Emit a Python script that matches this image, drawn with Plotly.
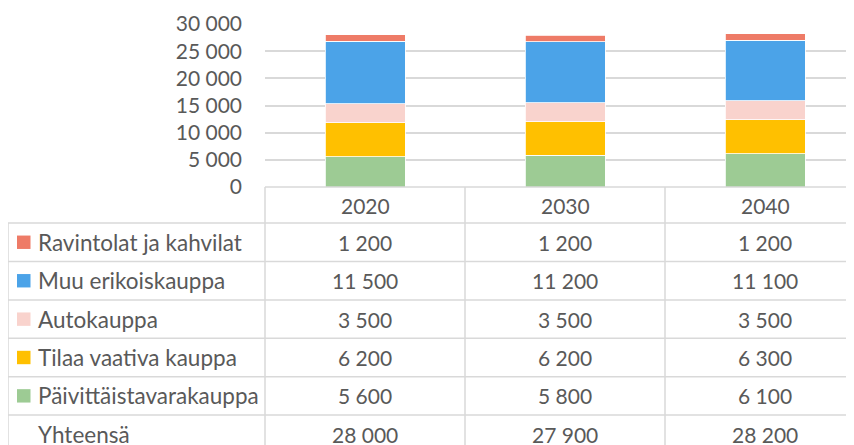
import plotly.graph_objects as go

years = ["2020", "2030", "2040"]
series_names = ["Päivittäistavarakauppa", "Tilaa vaativa kauppa", "Autokauppa",
                "Muu erikoiskauppa", "Ravintolat ja kahvilat"]
paivittais = [5600, 5800, 6100]
tilaa_vaativa = [6200, 6200, 6300]
autokauppa = [3500, 3500, 3500]
muu_erikois = [11500, 11200, 11100]
ravintolat = [1200, 1200, 1200]
series_values = [paivittais, tilaa_vaativa, autokauppa, muu_erikois, ravintolat]
colors = ["#9DCB94", "#FFC000", "#F9D3CD", "#4BA3E8", "#EE7B67"]
total_label = "Yhteensä"
yticks = [0, 5000, 10000, 15000, 20000, 25000, 30000]

OFF = 8  # page body margin
W, H = 854 - OFF, 445 - OFF
L, T = 265 - OFF, 24 - OFF
B_PIX = 187 - OFF  # figure pixel y of zero line
R = 0
plot_h = B_PIX - T
plot_w = W - L - R
FONT = "Lato"
GRAY = "#595959"
LINE = "#D9D9D9"
FS_NUM = 21
FS_LBL = 22.5

def fmt(v):
    return f"{v:,}".replace(",", " ")

def py(ypix):
    return (B_PIX - (ypix - OFF)) / plot_h

def px(xpix):
    return (xpix - OFF - L) / plot_w

xs = list(range(len(years)))
fig = go.Figure()
for name, vals, col in zip(series_names, series_values, colors):
    fig.add_trace(go.Bar(x=xs, y=vals, name=name, marker=dict(color=col, line=dict(color="white", width=0.8)),
                         width=0.4, showlegend=False))

x_right = -0.5 + plot_w / 200.0
fig.update_layout(
    width=W, height=H, barmode="stack",
    margin=dict(l=L, r=R, t=T, b=H - B_PIX),
    paper_bgcolor="white", plot_bgcolor="white",
    separators=", ",
    font=dict(family=FONT, color=GRAY, size=FS_NUM),
    xaxis=dict(range=[-0.5, x_right], showticklabels=False, showgrid=False, zeroline=False,
               showline=False, fixedrange=True),
    yaxis=dict(range=[0, 30000], tickvals=yticks, ticktext=[fmt(v) for v in yticks],
               showgrid=True, gridcolor=LINE, gridwidth=1.5, zeroline=False, showline=False,
               ticklabelstandoff=22, tickfont=dict(size=FS_NUM, color=GRAY, family=FONT)),
)

rows = [187, 223, 261.5, 300, 338.3, 376.7, 415, 453.3]
left_px = 8
shapes = []
shapes.append(dict(type="line", xref="paper", yref="paper", x0=0, x1=1, y0=py(rows[0]), y1=py(rows[0]),
                   line=dict(color=LINE, width=1.5)))
for r in rows[1:]:
    shapes.append(dict(type="line", xref="paper", yref="paper", x0=px(left_px), x1=1, y0=py(r), y1=py(r),
                       line=dict(color=LINE, width=1.5)))
shapes.append(dict(type="line", xref="paper", yref="paper", x0=0, x1=0, y0=py(rows[0]), y1=py(rows[-1]),
                   line=dict(color=LINE, width=1.5)))
shapes.append(dict(type="line", xref="paper", yref="paper", x0=px(left_px), x1=px(left_px), y0=py(rows[1]),
                   y1=py(rows[-1]), line=dict(color=LINE, width=1.5)))
for i in range(len(years) - 1):
    shapes.append(dict(type="line", xref="x", yref="paper", x0=i + 0.5, x1=i + 0.5, y0=py(rows[0]),
                       y1=py(rows[-1]), line=dict(color=LINE, width=1.5)))

annotations = []
for i, yr in enumerate(years):
    annotations.append(dict(x=i, y=py((rows[0] + rows[1]) / 2), xref="x", yref="paper", text=yr,
                            showarrow=False, xanchor="center", yanchor="middle",
                            font=dict(size=FS_NUM, color=GRAY, family=FONT)))
order = list(range(len(series_names)))[::-1]
for ri, si in enumerate(order):
    yc = (rows[ri + 1] + rows[ri + 2]) / 2
    shapes.append(dict(type="rect", xref="paper", yref="paper", x0=px(17), x1=px(30.5),
                       y0=py(yc + 6.7), y1=py(yc - 6.7), fillcolor=colors[si], line=dict(width=0)))
    annotations.append(dict(x=px(36), y=py(yc), xref="paper", yref="paper", text=series_names[si],
                            showarrow=False, xanchor="left", yanchor="middle",
                            font=dict(size=FS_LBL, color=GRAY, family=FONT)))
    for i in range(len(years)):
        annotations.append(dict(x=i, y=py(yc), xref="x", yref="paper", text=fmt(series_values[si][i]),
                                showarrow=False, xanchor="center", yanchor="middle",
                                font=dict(size=FS_NUM, color=GRAY, family=FONT)))
totals = [sum(s[i] for s in series_values) for i in range(len(years))]
yc = (rows[6] + rows[7]) / 2
annotations.append(dict(x=px(36), y=py(yc), xref="paper", yref="paper", text=total_label,
                        showarrow=False, xanchor="left", yanchor="middle",
                        font=dict(size=FS_LBL, color=GRAY, family=FONT)))
for i in range(len(years)):
    annotations.append(dict(x=i, y=py(yc), xref="x", yref="paper", text=fmt(totals[i]),
                            showarrow=False, xanchor="center", yanchor="middle",
                            font=dict(size=FS_NUM, color=GRAY, family=FONT)))

fig.update_layout(shapes=shapes, annotations=annotations)
fig.write_html("out.html")
